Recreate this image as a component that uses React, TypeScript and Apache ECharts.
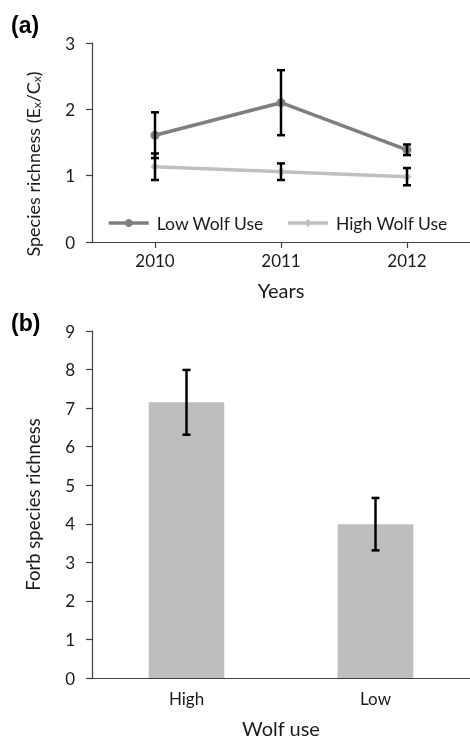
import React, { useEffect, useRef } from "react";
import * as echarts from "echarts";

const years = ["2010", "2011", "2012"];
const lowUse = [1.61, 2.1, 1.39];
const lowUseErr = [0.345, 0.49, 0.08];
const highUse = [1.135, 1.06, 0.985];
const highUseErr = [0.2, 0.125, 0.13];

const wolfUse = ["High", "Low"];
const forbRichness = [7.15, 3.99];
const forbErr = [0.84, 0.68];

const FONT = "Lato, 'Open Sans', sans-serif";
const AXIS_COLOR = "#404040";
const TEXT_COLOR = "#1a1a1a";

function errData(means: number[], errs: number[]) {
  return means.map((m, i) => [i, m - errs[i], m + errs[i]]);
}

function errRender(params: any, api: any) {
  const i = api.value(0);
  const lo = api.coord([i, api.value(1)]);
  const hi = api.coord([i, api.value(2)]);
  const hw = 4;
  const st = { stroke: "#000", lineWidth: 2.5 };
  return {
    type: "group",
    children: [
      { type: "line", shape: { x1: lo[0], y1: lo[1], x2: hi[0], y2: hi[1] }, style: st },
      { type: "line", shape: { x1: hi[0] - hw, y1: hi[1], x2: hi[0] + hw, y2: hi[1] }, style: st },
      { type: "line", shape: { x1: lo[0] - hw, y1: lo[1], x2: lo[0] + hw, y2: lo[1] }, style: st },
    ],
  };
}

export default function App() {
  const ref = useRef<HTMLDivElement>(null);
  useEffect(() => {
    if (!ref.current) return;
    const chart = echarts.init(ref.current, null, { renderer: "svg" });
    const axisLine = { show: true, lineStyle: { color: AXIS_COLOR, width: 1.2 } };
    const axisTick = { show: true, length: 6, lineStyle: { color: AXIS_COLOR, width: 1.2 } };
    const labelStyle = { color: TEXT_COLOR, fontFamily: FONT, fontSize: 17 };
    chart.setOption({
      animation: false,
      textStyle: { fontFamily: FONT },
      grid: [
        { left: 92, top: 43, width: 378, height: 199 },
        { left: 92, top: 331, width: 378, height: 350 },
      ],
      legend: {
        data: ["Low Wolf Use", "High Wolf Use"],
        left: 102,
        top: 209,
        itemWidth: 40,
        itemHeight: 10,
        itemGap: 22,
        lineStyle: { width: 3.5 },
        textStyle: { fontFamily: FONT, fontSize: 17.5, color: TEXT_COLOR, padding: [0, 0, 0, 3] },
      },
      xAxis: [
        {
          type: "category",
          gridIndex: 0,
          data: years,
          boundaryGap: true,
          axisLine,
          axisTick: { ...axisTick, alignWithLabel: true },
          axisLabel: { ...labelStyle, margin: 10 },
          name: "Years",
          nameLocation: "middle",
          nameGap: 38,
          nameTextStyle: { fontFamily: FONT, fontSize: 20, color: TEXT_COLOR },
        },
        {
          type: "category",
          gridIndex: 1,
          data: wolfUse,
          boundaryGap: true,
          axisLine,
          axisTick: { show: false },
          axisLabel: { ...labelStyle, fontSize: 17, margin: 12 },
          name: "Wolf use",
          nameLocation: "middle",
          nameGap: 40,
          nameTextStyle: { fontFamily: FONT, fontSize: 20, color: TEXT_COLOR },
        },
      ],
      yAxis: [
        {
          type: "value",
          gridIndex: 0,
          min: 0,
          max: 3,
          interval: 1,
          axisLine,
          axisTick,
          splitLine: { show: false },
          axisLabel: { ...labelStyle, margin: 17 },
        },
        {
          type: "value",
          gridIndex: 1,
          min: 0,
          max: 9,
          interval: 1,
          axisLine,
          axisTick,
          splitLine: { show: false },
          axisLabel: { ...labelStyle, margin: 17 },
          name: "Forb species richness",
          nameLocation: "middle",
          nameGap: 50,
          nameTextStyle: { fontFamily: FONT, fontSize: 18.5, color: TEXT_COLOR },
        },
      ],
      graphic: [
        {
          type: "text",
          left: 11,
          top: 13,
          style: { text: "(a)", font: "bold 23px Arial, 'Liberation Sans', sans-serif", fill: "#000" },
        },
        {
          type: "text",
          left: 11,
          top: 311,
          style: { text: "(b)", font: "bold 23px Arial, 'Liberation Sans', sans-serif", fill: "#000" },
        },
        {
          type: "text",
          x: 33,
          y: 164,
          rotation: Math.PI / 2,
          style: {
            text: "Species richness (E{sub|x}/C{sub|x})",
            fontFamily: FONT,
            fontSize: 18,
            fill: TEXT_COLOR,
            align: "center",
            verticalAlign: "middle",
            rich: {
              sub: { fontFamily: FONT, fontSize: 12, fill: TEXT_COLOR, verticalAlign: "bottom", lineHeight: 12, padding: [6, 0, 0, 0] },
            },
          },
        },
      ],
      series: [
        {
          name: "Low Wolf Use",
          type: "line",
          xAxisIndex: 0,
          yAxisIndex: 0,
          data: lowUse,
          symbol: "circle",
          symbolSize: 9,
          lineStyle: { color: "#7f7f7f", width: 3.5 },
          itemStyle: { color: "#7f7f7f" },
          z: 2,
        },
        {
          name: "High Wolf Use",
          type: "line",
          xAxisIndex: 0,
          yAxisIndex: 0,
          data: highUse,
          symbol: "diamond",
          symbolSize: 9,
          lineStyle: { color: "#bfbfbf", width: 3.5 },
          itemStyle: { color: "#bfbfbf" },
          z: 2,
        },
        {
          type: "custom",
          xAxisIndex: 0,
          yAxisIndex: 0,
          renderItem: errRender,
          data: errData(lowUse, lowUseErr),
          z: 5,
        },
        {
          type: "custom",
          xAxisIndex: 0,
          yAxisIndex: 0,
          renderItem: errRender,
          data: errData(highUse, highUseErr),
          z: 5,
        },
        {
          type: "bar",
          xAxisIndex: 1,
          yAxisIndex: 1,
          data: forbRichness,
          barWidth: "40%",
          itemStyle: { color: "#bebebe" },
          z: 2,
        },
        {
          type: "custom",
          xAxisIndex: 1,
          yAxisIndex: 1,
          renderItem: errRender,
          data: errData(forbRichness, forbErr),
          z: 5,
        },
      ],
    });
    return () => chart.dispose();
  }, []);
  return <div ref={ref} style={{ position: "fixed", left: 0, top: 0, width: 470, height: 739 }} />;
}
